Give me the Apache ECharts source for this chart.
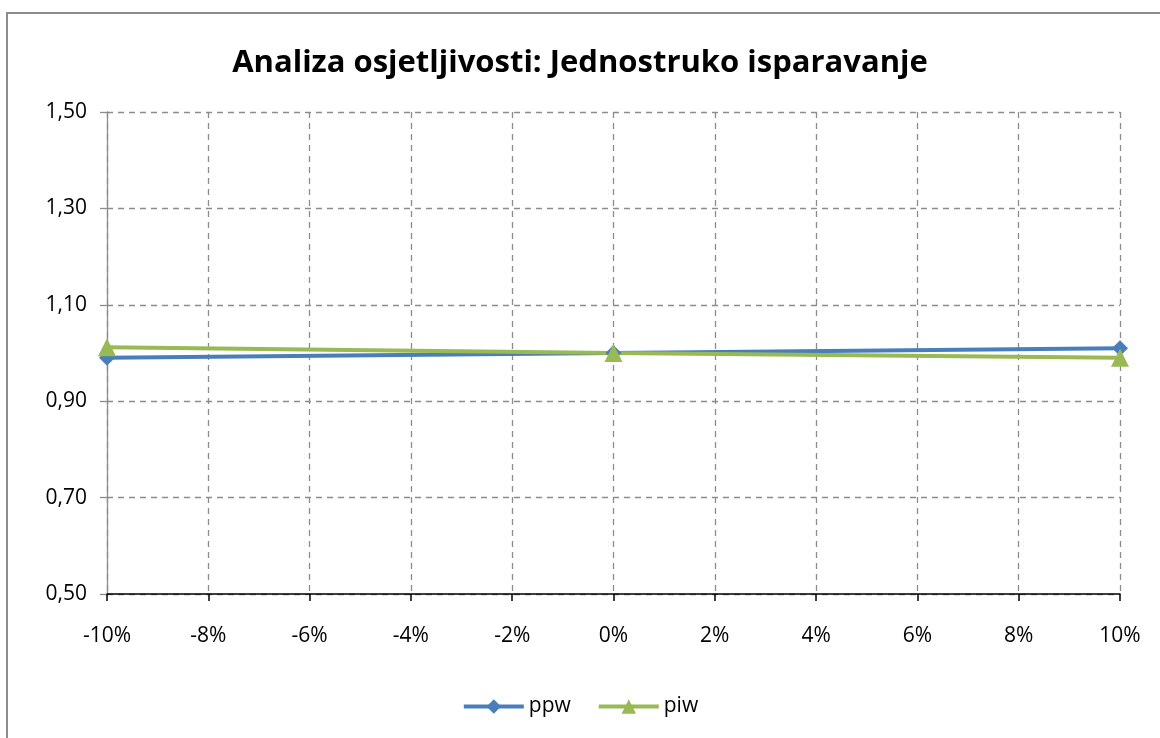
<!DOCTYPE html>
<html>
<head>
<meta charset="utf-8">
<script src="https://cdn.jsdelivr.net/npm/echarts@6/dist/echarts.min.js"></script>
<style>
  html, body { margin: 0; padding: 0; background: #fff; }
  #frame { position: absolute; left: 6px; top: 12px; width: 1160px; height: 740px;
           border: 2px solid #8c8c8c; box-sizing: border-box; }
  #chart { position: absolute; left: 0; top: 0; width: 1160px; height: 738px; }
</style>
</head>
<body>
<div id="frame"></div>
<div id="chart"></div>
<script>
"use strict";

// x: promjena u %, y: omjer
const X_VALUES = [-10, 0, 10];
const PPW = [0.99, 1.00, 1.01];
const PIW = [1.012, 1.00, 0.99];

const FONT = "'Open Sans', 'Liberation Sans', sans-serif";
const GRID = "#8c8c8c";

const pairs = ys => X_VALUES.map((x, i) => [x, ys[i]]);

const chart = echarts.init(document.getElementById("chart"), null, { renderer: "canvas" });
chart.setOption({
  animation: false,
  textStyle: { fontFamily: FONT },
  title: {
    text: "Analiza osjetljivosti: Jednostruko isparavanje",
    left: "center", top: 43,
    textStyle: { fontFamily: FONT, fontSize: 31, fontWeight: "bold", color: "#000" }
  },
  grid: { left: 107, right: 40, top: 112, bottom: 144, containLabel: false },
  legend: {
    bottom: 16, left: "center",
    itemWidth: 60, itemHeight: 18, itemGap: 26,
    lineStyle: { width: 4 },
    textStyle: { fontSize: 21, color: "#000", fontFamily: FONT },
    data: ["ppw", "piw"]
  },
  xAxis: {
    type: "value", min: -10, max: 10, interval: 2,
    axisLine: { onZero: false, lineStyle: { color: "#000", width: 1.5 } },
    axisTick: { show: true, length: 7, lineStyle: { color: "#000", width: 1.5 } },
    axisLabel: { formatter: v => v + "%", fontSize: 21, color: "#000", margin: 32, fontFamily: FONT },
    splitLine: { show: true, lineStyle: { color: GRID, type: [6, 5], width: 1.3 } }
  },
  yAxis: {
    type: "value", min: 0.5, max: 1.5, interval: 0.2,
    axisLine: { show: true, onZero: false, lineStyle: { color: GRID, width: 1.3 } },
    axisTick: { show: true, length: 7, lineStyle: { color: GRID, width: 1.3 } },
    axisLabel: { formatter: v => v.toFixed(2).replace(".", ","), fontSize: 21, color: "#000", margin: 20, fontFamily: FONT },
    splitLine: { show: true, lineStyle: { color: GRID, type: [6, 5], width: 1.3 } }
  },
  series: [
    {
      name: "ppw", type: "line", data: pairs(PPW),
      symbol: "diamond", symbolSize: 16,
      lineStyle: { color: "#4a7ebb", width: 4 },
      itemStyle: { color: "#4a7ebb" }
    },
    {
      name: "piw", type: "line", data: pairs(PIW),
      symbol: "triangle", symbolSize: 18,
      lineStyle: { color: "#98b954", width: 4 },
      itemStyle: { color: "#98b954" }
    }
  ]
});
</script>
</body>
</html>
